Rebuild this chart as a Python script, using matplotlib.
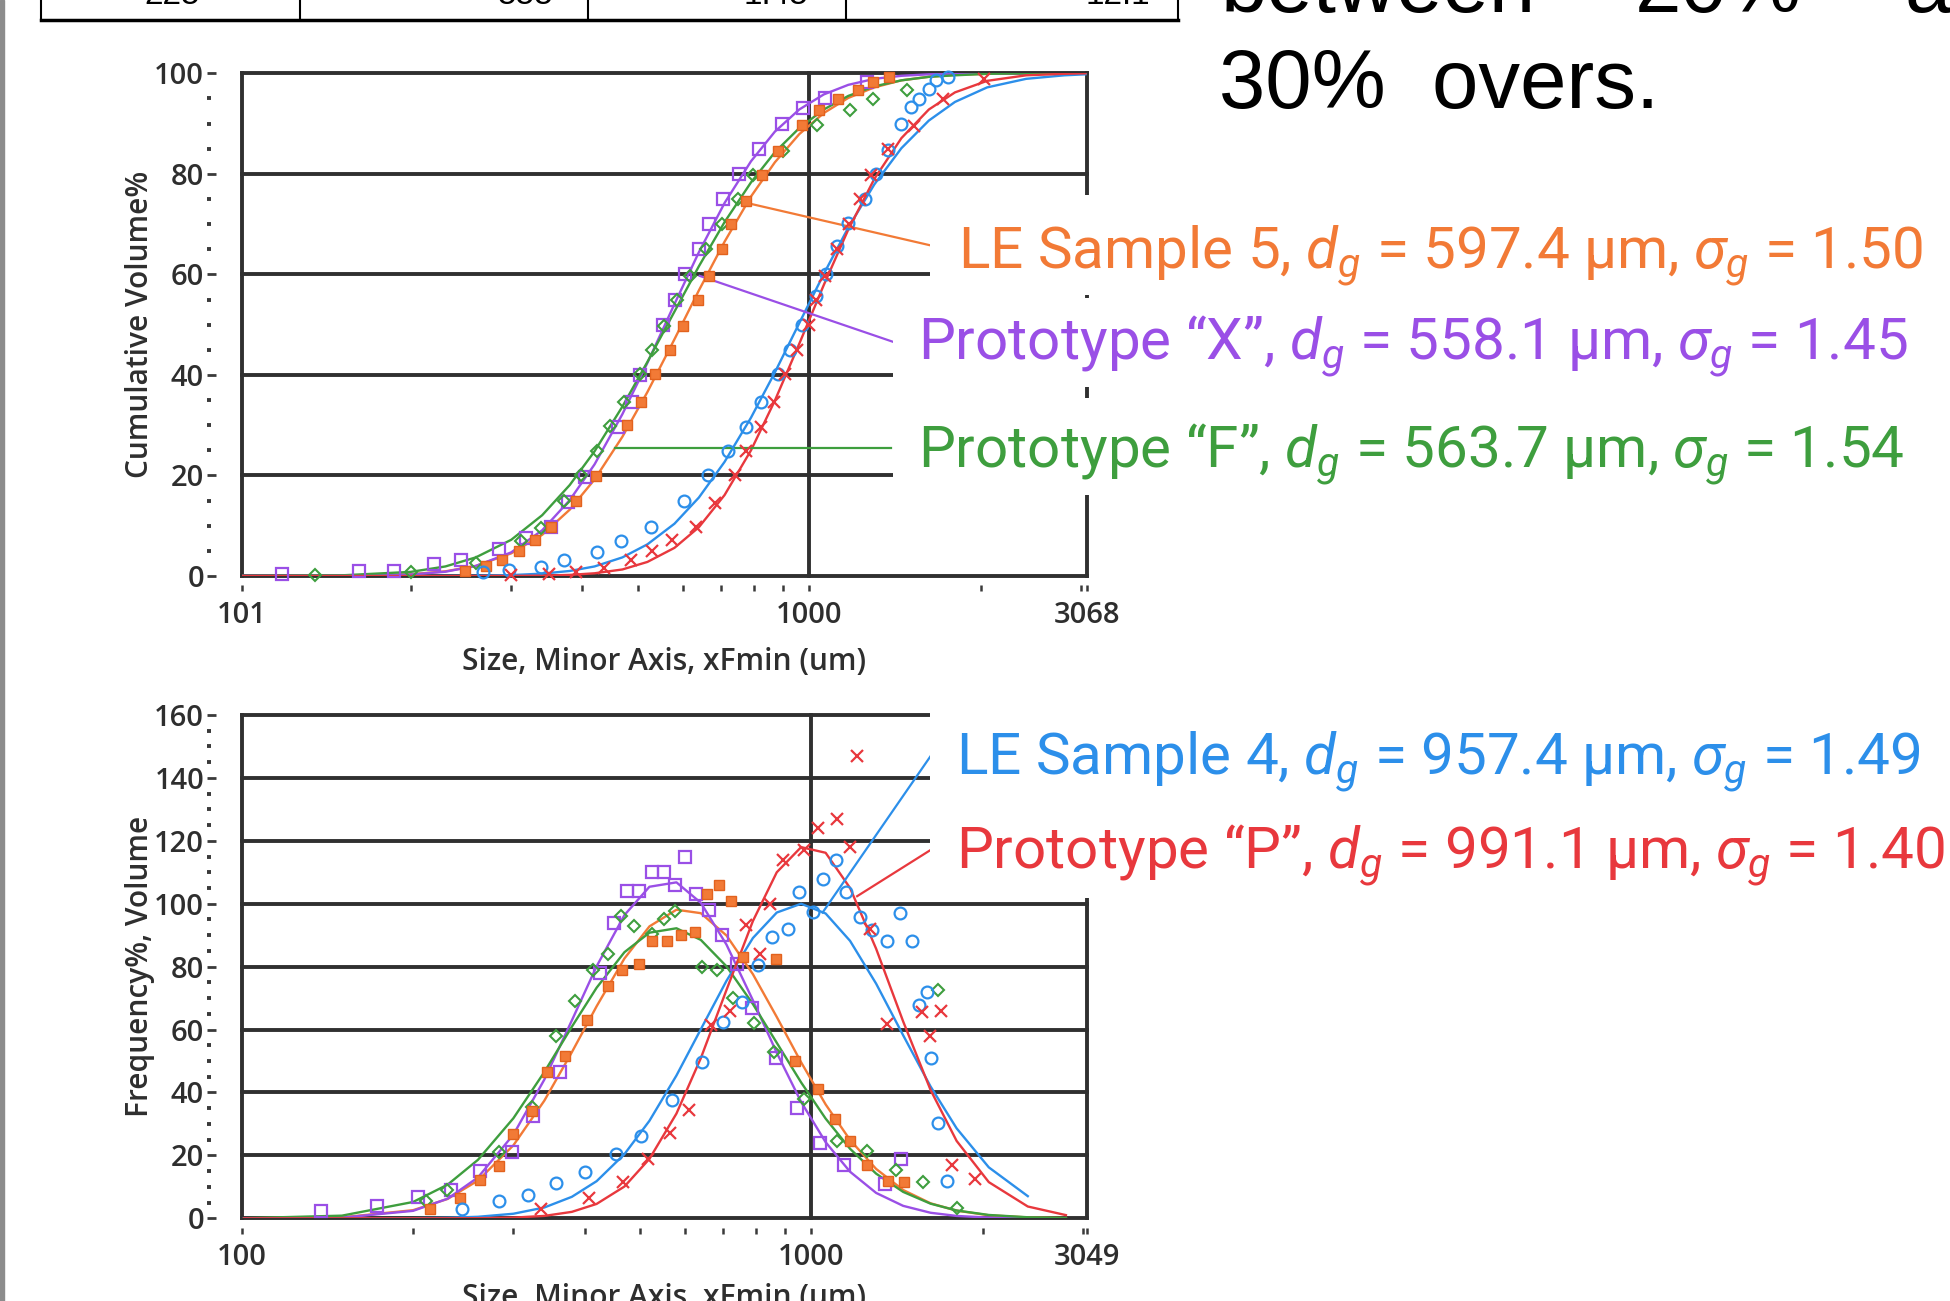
import numpy as np
import matplotlib
matplotlib.use("Agg")
import matplotlib.pyplot as plt
from matplotlib.lines import Line2D
from matplotlib.ticker import FixedLocator, FixedFormatter, NullFormatter, MultipleLocator

plt.rcParams['mathtext.fontset'] = 'custom'
plt.rcParams['mathtext.rm'] = 'Roboto'
plt.rcParams['mathtext.it'] = 'Roboto:italic'
plt.rcParams['mathtext.bf'] = 'Roboto:bold'

nan = np.nan

# sizes (um) where the fitted curves were read
size_grid = [101, 150, 200, 230, 260, 300, 340, 380, 420, 470, 520, 580, 640, 710,
             790, 870, 960, 1060, 1170, 1300, 1450, 1620, 1800, 2050, 2400, 2800, 3049]

# cumulative volume % (fitted curves, upper chart)
cum_orange = [0.0, 0.03, 0.35, 0.93, 2.0, 4.5, 8.2, 13.2, 19.2, 27.7, 36.6, 47.1, 56.8, 66.5,
              75.5, 82.3, 87.9, 92.1, 95.1, 97.2, 98.6, 99.3, 99.7, 99.9, 100, 100, 100]
cum_purple = [0.0, 0.02, 0.29, 0.85, 2.0, 4.7, 9.1, 15.1, 22.2, 32.2, 42.4, 54.1, 64.4, 74.2,
              82.5, 88.4, 92.8, 95.8, 97.7, 98.9, 99.5, 99.8, 99.9, 100, 100, 100, 100]
cum_green = [0.0, 0.11, 0.82, 1.9, 3.7, 7.2, 12.1, 18.1, 24.8, 33.7, 42.6, 52.6, 61.6, 70.4,
             78.3, 84.3, 89.1, 92.8, 95.5, 97.4, 98.6, 99.3, 99.6, 99.9, 100, 100, 100]
cum_blue = [0, 0, 0, 0.02, 0.05, 0.18, 0.47, 1.0, 1.9, 3.7, 6.3, 10.4, 15.6, 22.7,
            31.5, 40.5, 50.3, 60.1, 69.3, 77.9, 85.1, 90.6, 94.3, 97.2, 98.9, 99.6, 99.8]
cum_red = [0, 0, 0, 0, 0, 0.02, 0.07, 0.22, 0.54, 1.3, 2.8, 5.6, 9.7, 16.1,
           25.0, 34.9, 46.2, 57.9, 68.9, 79.0, 87.1, 92.8, 96.2, 98.5, 99.6, 99.9, 100]

# frequency %, volume (fitted curves, lower chart)
freq_orange = [0.0, 0.30, 2.58, 6.16, 12.0, 23.2, 37.4, 52.8, 67.4, 82.6, 92.8, 98.1, 97.0, 89.9,
               77.6, 64.0, 49.6, 36.2, 24.9, 15.7, 9.0, 4.77, 2.43, 0.96, 0.28, 0.07, nan]
freq_purple = [0.0, 0.21, 2.37, 6.24, 13.0, 26.6, 44.1, 62.9, 80.1, 96.4, 105.4, 106.8, 100.3, 87.0,
               69.3, 52.6, 37.0, 24.2, 14.8, 8.07, 3.96, 1.76, 0.75, 0.23, 0.05, nan, nan]
freq_green = [0.03, 0.84, 5.19, 10.7, 18.6, 31.8, 46.5, 60.9, 73.3, 84.6, 90.8, 92.2, 88.5, 80.1,
              68.1, 55.8, 43.2, 31.7, 22.1, 14.2, 8.4, 4.65, 2.49, 1.06, 0.33, 0.09, nan]
freq_blue = [0, 0, 0.04, 0.17, 0.48, 1.45, 3.44, 6.83, 11.8, 20.4, 31.0, 45.4, 60.1, 75.5,
             89.1, 97.2, 100.0, 96.9, 88.2, 74.6, 58.2, 41.9, 28.6, 16.2, 7.04, nan, nan]
freq_red = [0, 0, 0, 0.01, 0.04, 0.22, 0.76, 2.05, 4.57, 10.1, 18.9, 33.3, 50.9, 72.6,
            94.5, 110.0, 118.0, 116.2, 105.0, 85.7, 62.6, 40.8, 24.6, 11.5, 3.75, 1.01, nan]

# measured points, upper chart
up_orange_x = [249, 271, 289, 309, 330, 352, 389, 422, 479, 506, 536, 570, 600, 637, 667, 704,
               729, 775, 826, 880, 971, 1040, 1123, 1216, 1291, 1381]
up_orange_y = [1.0, 1.9, 3.1, 5.0, 7.2, 9.7, 15, 19.9, 30.1, 34.6, 40.1, 45, 49.7, 55, 59.6, 65,
               70, 74.6, 79.7, 84.6, 89.8, 92.6, 94.9, 96.6, 98.3, 99.3]
up_purple_x = [119, 162, 187, 220, 245, 285, 318, 353, 378, 404, 462, 489, 504, 553, 582, 604,
               640, 667, 706, 753, 816, 896, 974, 1066, 1264]
up_purple_y = [0.3, 0.9, 1.0, 2.4, 3.2, 5.4, 7.5, 9.8, 14.8, 19.7, 29.7, 34.6, 40, 50, 55, 60,
               65, 70, 75, 80, 85, 90, 93, 95, 98.3]
up_green_x = [136, 200, 260, 312, 339, 371, 398, 425, 447, 473, 504, 530, 557, 587, 617, 660,
              704, 750, 796, 899, 1033, 1176, 1291, 1482]
up_green_y = [0.1, 0.8, 2.5, 6.9, 9.6, 14.9, 20.1, 24.8, 29.9, 34.6, 40.1, 44.9, 49.7, 55, 59.6, 65,
              70, 75, 79.7, 84.6, 89.8, 92.6, 94.8, 96.6]
up_blue_x = [268, 297, 339, 372, 424, 468, 527, 602, 664, 719, 775, 823, 880, 925, 971, 1028,
             1070, 1116, 1168, 1250, 1310, 1374, 1445, 1509, 1555, 1620, 1670, 1750]
up_blue_y = [0.7, 1.2, 1.7, 3.1, 4.8, 7.0, 9.7, 15, 20.1, 24.9, 29.7, 34.6, 40.1, 44.9, 49.9, 55.6,
             60, 65.6, 70.2, 75, 80, 84.8, 89.9, 93.3, 94.9, 96.9, 98.6, 99.3]
up_red_x = [300, 350, 390, 436, 487, 530, 575, 633, 683, 740, 775, 823, 866, 906, 951, 1000,
            1028, 1066, 1118, 1173, 1225, 1281, 1374, 1524, 1714, 2021]
up_red_y = [0.1, 0.3, 0.8, 1.6, 3.1, 4.9, 7.2, 9.7, 14.6, 20.1, 24.9, 29.7, 34.6, 40.1, 44.9, 49.9,
            55, 59.6, 65, 70, 74.9, 79.7, 84.9, 89.6, 94.9, 98.9]

# measured points, lower chart
lo_orange_x = [214, 242, 262, 283, 300, 324, 344, 370, 404, 440, 465, 498, 526, 558, 590, 624,
               656, 688, 724, 760, 867, 938, 1028, 1099, 1171, 1253, 1363, 1455]
lo_orange_y = [2.8, 6.5, 12.3, 16.6, 26.7, 34, 46.6, 51.6, 63, 74, 79, 81, 88, 88, 90, 91,
               103, 106, 101, 83, 82.5, 50, 41, 31.5, 24.6, 17, 11.8, 11.5]
lo_purple_x = [138, 173, 204, 233, 262, 298, 325, 362, 426, 451, 475, 498, 525, 551, 577, 600,
               628, 661, 696, 742, 786, 867, 944, 1035, 1143, 1347, 1435]
lo_purple_y = [2.2, 3.8, 6.9, 8.9, 15, 21, 32.5, 46.5, 78, 94, 104, 104, 110, 110, 106, 115,
               103, 98, 90, 81, 67, 51, 35, 24, 17, 11, 19]
lo_green_x = [211, 229, 283, 323, 357, 385, 414, 440, 464, 488, 526, 551, 577, 642, 682, 730,
              792, 860, 972, 1111, 1252, 1410, 1570, 1668, 1805]
lo_green_y = [5.4, 9.1, 21, 35.5, 58, 69, 79, 84, 96, 93, 90.5, 95, 97.6, 80, 79, 70,
              62, 53, 38, 24.6, 21.4, 15.5, 11.5, 72.5, 3.3]
lo_blue_x = [244, 283, 318, 356, 400, 454, 502, 569, 643, 700, 757, 808, 855, 910, 951, 1006,
             1050, 1104, 1151, 1219, 1279, 1357, 1433, 1503, 1546, 1597, 1620, 1670, 1731]
lo_blue_y = [2.8, 5.4, 7.3, 11.3, 14.7, 20.3, 26.2, 37.5, 49.6, 62.3, 68.8, 80.4, 89.4, 92, 103.6, 97.4,
             108, 114, 103.6, 95.8, 91.5, 88, 96.9, 88, 67.7, 72, 50.9, 30.2, 11.9]
lo_red_x = [335, 407, 468, 517, 566, 611, 668, 720, 768, 812, 847, 892, 971, 1028, 1111, 1168,
            1204, 1270, 1356, 1566, 1618, 1687, 1769, 1939]
lo_red_y = [2.8, 6.3, 11.5, 18.7, 27.2, 34.5, 61.5, 65.9, 93.2, 84, 100, 114, 117, 124, 127, 118,
            147, 92, 61.7, 65.6, 58, 66, 16.8, 12.6]

ORANGE = '#F27A36'
PURPLE = '#9A4FE6'
GREEN = '#3E9E3E'
BLUE = '#2C8FEA'
RED = '#E8383D'
GRID = '#303030'
TXT = '#2e2e2e'

labels_up = ["LE Sample 5, $d_g$ = 597.4 µm, $\\sigma_g$ = 1.50",
             "Prototype \u201cX\u201d, $d_g$ = 558.1 µm, $\\sigma_g$ = 1.45",
             "Prototype \u201cF\u201d, $d_g$ = 563.7 µm, $\\sigma_g$ = 1.54"]
labels_lo = ["LE Sample 4, $d_g$ = 957.4 µm, $\\sigma_g$ = 1.49",
             "Prototype \u201cP\u201d, $d_g$ = 991.1 µm, $\\sigma_g$ = 1.40"]

W, H = 1950, 1301
fig = plt.figure(figsize=(W / 100, H / 100), dpi=100)


def px(x0, y0, x1, y1):
    return [x0 / W, 1 - y1 / H, (x1 - x0) / W, (y1 - y0) / H]


ax1 = fig.add_axes(px(241.6, 73.3, 1087, 576))
ax2 = fig.add_axes(px(241.6, 715, 1087, 1218.3))


def style(ax, xlim, xmajor, ylim, ymajor, xlabel, ylabel, xlab_y):
    ax.set_xscale('log')
    ax.set_xlim(*xlim)
    ax.set_ylim(*ylim)
    for s in ax.spines.values():
        s.set_visible(False)
    ax.spines['left'].set_position(('outward', 25))
    ax.spines['bottom'].set_position(('outward', 11))
    ax.xaxis.set_major_locator(FixedLocator(xmajor))
    ax.xaxis.set_major_formatter(FixedFormatter([str(v) for v in xmajor]))
    ax.xaxis.set_minor_locator(FixedLocator([200, 300, 400, 500, 600, 700, 800, 900, 2000, 3000]))
    ax.xaxis.set_minor_formatter(NullFormatter())
    ax.yaxis.set_major_locator(FixedLocator(ymajor))
    ax.yaxis.set_minor_locator(MultipleLocator(5))
    ax.tick_params(axis='y', which='major', direction='in', length=6.5, width=2.0,
                   color='#3a3a3a', labelsize=21, labelcolor=TXT, pad=2)
    ax.tick_params(axis='y', which='minor', direction='in', length=3.2, width=2.8, color='#3a3a3a')
    ax.tick_params(axis='x', which='both', direction='in', length=4, width=1.8,
                   color='#3a3a3a', labelsize=21, labelcolor=TXT, pad=7)
    for lab in ax.get_xticklabels() + ax.get_yticklabels():
        lab.set_family('Open Sans')
        lab.set_fontweight('semibold')
    ax.grid(True, which='major', color=GRID, lw=2.8)
    for gl in ax.get_xgridlines() + ax.get_ygridlines():
        gl.set_clip_on(False)
    ax.set_xlabel(xlabel, fontsize=21.5, family='Open Sans', fontweight='semibold', color=TXT)
    ax.set_ylabel(ylabel, fontsize=21.5, family='Open Sans', fontweight='semibold', color=TXT)
    ax.xaxis.set_label_coords(0.5, xlab_y)
    ax.yaxis.set_label_coords(-0.103, 0.5)


style(ax1, (101, 3068), [101, 1000, 3068], (0, 100), [0, 20, 40, 60, 80, 100],
      'Size, Minor Axis, xFmin (um)', 'Cumulative Volume%', -0.142)
style(ax2, (100, 3049), [100, 1000, 3049], (0, 160), [0, 20, 40, 60, 80, 100, 120, 140, 160],
      'Size, Minor Axis, xFmin (um)', 'Frequency%, Volume', -0.128)

line_kw = dict(lw=1.7, zorder=2)
ax1.plot(size_grid, cum_orange, color=ORANGE, **line_kw)
ax1.plot(size_grid, cum_purple, color=PURPLE, **line_kw)
ax1.plot(size_grid, cum_green, color=GREEN, **line_kw)
ax1.plot(size_grid, cum_blue, color=BLUE, **line_kw)
ax1.plot(size_grid, cum_red, color=RED, **line_kw)

ax2.plot(size_grid, freq_orange, color=ORANGE, **line_kw)
ax2.plot(size_grid, freq_purple, color=PURPLE, **line_kw)
ax2.plot(size_grid, freq_green, color=GREEN, **line_kw)
ax2.plot(size_grid, freq_blue, color=BLUE, **line_kw)
ax2.plot(size_grid, freq_red, color=RED, **line_kw)


def points(ax, xs, ys, style_name, color):
    kw = dict(ls='none', zorder=3, clip_on=False)
    if style_name == 'fsq':
        ax.plot(xs, ys, marker='s', ms=7.5, mfc=color, mec='#E2621E', mew=1.0, **kw)
    elif style_name == 'osq':
        ax.plot(xs, ys, marker='s', ms=8, mfc='none', mec=color, mew=1.6, **kw)
    elif style_name == 'dia':
        ax.plot(xs, ys, marker='D', ms=6.5, mfc='none', mec=color, mew=1.5, **kw)
    elif style_name == 'circ':
        ax.plot(xs, ys, marker='o', ms=8.5, mfc='none', mec=color, mew=1.6, **kw)
    else:
        ax.plot(xs, ys, marker='x', ms=8, mec=color, mew=1.6, **kw)


points(ax1, up_purple_x, up_purple_y, 'osq', PURPLE)
points(ax1, up_green_x, up_green_y, 'dia', GREEN)
points(ax1, up_orange_x, up_orange_y, 'fsq', ORANGE)
points(ax1, up_blue_x, up_blue_y, 'circ', BLUE)
points(ax1, up_red_x, up_red_y, 'x', RED)

points(ax2, lo_purple_x, lo_purple_y, 'osq', PURPLE)
points(ax2, lo_green_x, lo_green_y, 'dia', GREEN)
points(ax2, lo_orange_x, lo_orange_y, 'fsq', ORANGE)
points(ax2, lo_blue_x, lo_blue_y, 'circ', BLUE)
points(ax2, lo_red_x, lo_red_y, 'x', RED)

# leader lines from curves to the labels
ax1.plot([764, 1641], [74.4, 65.7], color=ORANGE, lw=1.6, zorder=2.5, clip_on=False)
ax1.plot([642, 1409], [59.7, 46.5], color=PURPLE, lw=1.6, zorder=2.5, clip_on=False)
ax1.plot([457, 1388], [25.4, 25.4], color=GREEN, lw=1.6, zorder=2.5, clip_on=False)
ax2.plot([1047, 1647], [97.2, 148.8], color=BLUE, lw=1.6, zorder=2.5, clip_on=False)
ax2.plot([1204, 1647], [102.4, 117.9], color=RED, lw=1.6, zorder=2.5, clip_on=False)

# white label panels pasted over the charts (pixel boxes: x0, y0, y1)
for x0, y0, y1 in [(930, 195, 295), (893, 298, 387), (893, 398, 495),
                   (930, 709, 803), (930, 803, 898)]:
    fig.add_artist(plt.Rectangle((x0 / W, 1 - y1 / H), (W - x0) / W, (y1 - y0) / H,
                                 transform=fig.transFigure, facecolor='white',
                                 edgecolor='none', zorder=4))

lab_kw = dict(ha='left', va='center', fontsize=42, family='Roboto', zorder=5)
fig.text(958 / W, 1 - 255 / H, labels_up[0], color=ORANGE, **lab_kw)
fig.text(918 / W, 1 - 346 / H, labels_up[1], color=PURPLE, **lab_kw)
fig.text(918 / W, 1 - 454 / H, labels_up[2], color=GREEN, **lab_kw)
fig.text(956 / W, 1 - 761 / H, labels_lo[0], color=BLUE, **lab_kw)
fig.text(956 / W, 1 - 855 / H, labels_lo[1], color=RED, **lab_kw)

# slide text cut at the top right
big = dict(fontsize=60, family='Liberation Sans', color='black', va='baseline', ha='left')
fig.text(1219 / W, 1 - 108 / H, '30%  overs.', **big)
fig.text(1221 / W, 1 - 12 / H, 'between', **big)
fig.text(1635 / W, 1 - 12 / H, '20%', **big)
fig.text(1905 / W, 1 - 12 / H, 'and', **big)

# bottom edge of a table cut off at the top
fig.add_artist(Line2D([41 / W, 1178 / W], [1 - 20 / H] * 2, color='black', lw=2.5))
for xb in [41, 300, 588, 846, 1178]:
    fig.add_artist(Line2D([xb / W] * 2, [1 - 20 / H, 1.0], color='black', lw=1.5))
for xc, s in zip([172, 526, 776, 1118], ['225', '555', '1.45', '12.1']):
    fig.text(xc / W, 1 - 4 / H, s, fontsize=24, family='Liberation Sans', ha='center', va='baseline')

fig.add_artist(plt.Rectangle((0, 0), 4 / W, 1, transform=fig.transFigure, color='#8c8c8c'))

fig.savefig('out.png', dpi=100)
